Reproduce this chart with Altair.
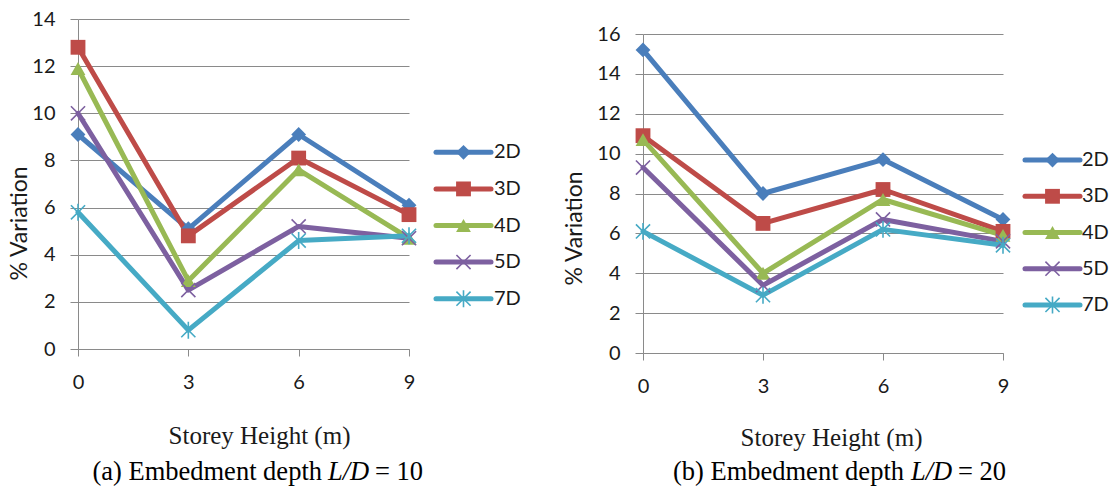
import altair as alt
import pandas as pd

# Storey heights (m) on the x axis
heights = [0, 3, 6, 9]
series = ["2D", "3D", "4D", "5D", "7D"]

# % variation, embedment depth L/D = 10
ld10_2d = [9.1, 5.1, 9.1, 6.1]
ld10_3d = [12.8, 4.8, 8.1, 5.7]
ld10_4d = [11.9, 2.9, 7.6, 4.7]
ld10_5d = [10.0, 2.5, 5.2, 4.7]
ld10_7d = [5.8, 0.8, 4.6, 4.8]

# % variation, embedment depth L/D = 20
ld20_2d = [15.2, 8.0, 9.7, 6.7]
ld20_3d = [10.9, 6.5, 8.2, 6.1]
ld20_4d = [10.7, 4.0, 7.7, 5.9]
ld20_5d = [9.3, 3.4, 6.7, 5.6]
ld20_7d = [6.1, 2.9, 6.2, 5.4]

colors = ["#4A7EBB", "#BE4B48", "#98B954", "#7D60A0", "#46AAC5"]
X_PATH = "M-1,-1L1,1M-1,1L1,-1"
STAR_PATH = "M-1,-1L1,1M-1,1L1,-1M0,-1.2L0,1.2"
shapes = ["diamond", "square", "triangle-up", X_PATH, STAR_PATH]

TEXT = "#1a1a1a"
GRID = "#8a8a8a"
SANS = "Lato"
SERIF = "Liberation Serif"


def panel(values, ymax, width, height, plot_top, left_room, right_room,
          x_title_pos, y_title_pos, legend_x, legend_y, caption, caption_pos):
    long = pd.DataFrame(
        [{"h": h, "v": v, "series": s}
         for s, vals in zip(series, values) for h, v in zip(heights, vals)]
    )
    base = alt.Chart(long)

    x = alt.X(
        "h:Q",
        scale=alt.Scale(domain=[0, 9], nice=False),
        axis=alt.Axis(
            values=heights, grid=False, tickSize=7, labelPadding=16, labelFlush=False,
            title="Storey Height (m)", titleFont=SERIF, titleFontSize=25,
            titleFontWeight="normal", titleColor=TEXT,
            titleX=x_title_pos[0], titleY=x_title_pos[1],
            titleBaseline="middle", titleAlign="center",
        ),
    )
    y = alt.Y(
        "v:Q",
        scale=alt.Scale(domain=[0, ymax], nice=False, range=[height, plot_top]),
        axis=alt.Axis(
            values=list(range(0, ymax + 1, 2)), grid=True, tickSize=8,
            labelPadding=15, labelFlush=False,
            title="% Variation", titleFont=SANS, titleFontSize=23,
            titleFontWeight="normal", titleColor=TEXT, titleAngle=270,
            titleX=y_title_pos[0], titleY=y_title_pos[1],
            titleBaseline="middle", titleAlign="center",
        ),
    )
    color = alt.Color("series:N", scale=alt.Scale(domain=series, range=colors), legend=None)
    shape = alt.Shape("series:N", scale=alt.Scale(domain=series, range=shapes), legend=None)

    lines = base.mark_line(strokeWidth=5, strokeJoin="round", strokeCap="round").encode(
        x=x, y=y, color=color
    )
    solid = base.transform_filter(
        alt.FieldOneOfPredicate(field="series", oneOf=series[:3])
    ).mark_point(filled=True, size=220, opacity=1).encode(x=x, y=y, color=color, shape=shape)
    hollow = base.transform_filter(
        alt.FieldOneOfPredicate(field="series", oneOf=series[3:])
    ).mark_point(filled=False, size=200, strokeWidth=1.6, opacity=1).encode(
        x=x, y=y, color=color, shape=shape
    )

    one = pd.DataFrame({"t": [""]})
    # transparent rule that fixes the panel's outer extent
    frame = alt.Chart(one).mark_rule(opacity=0).encode(
        x=alt.value(-left_room), x2=alt.value(width + right_room), y=alt.value(-19)
    )

    cap_a, cap_b, cap_c = caption
    cx_a, cx_b, cx_c, cy = caption_pos
    caps = [
        alt.Chart(pd.DataFrame({"t": [cap_a]})).mark_text(
            font=SERIF, fontSize=26.5, color="black", align="right", baseline="middle"
        ).encode(x=alt.value(cx_a), y=alt.value(cy), text="t:N"),
        alt.Chart(pd.DataFrame({"t": [cap_b]})).mark_text(
            font=SERIF, fontSize=26.5, fontStyle="italic", color="black",
            align="left", baseline="middle"
        ).encode(x=alt.value(cx_b), y=alt.value(cy), text="t:N"),
        alt.Chart(pd.DataFrame({"t": [cap_c]})).mark_text(
            font=SERIF, fontSize=26.5, color="black", align="left", baseline="middle"
        ).encode(x=alt.value(cx_c), y=alt.value(cy), text="t:N"),
    ]

    plot = alt.layer(lines, solid, hollow, frame, *caps)

    # legend drawn as line + marker + label per series
    leg = alt.Chart(pd.DataFrame({"series": series}))
    ly = alt.Y(
        "series:N",
        scale=alt.Scale(domain=series, range=legend_y, padding=0),
        axis=None,
    )
    lx0, lx1, ltx = legend_x
    lmid = (lx0 + lx1) / 2
    leg_rule = leg.mark_rule(strokeWidth=5, strokeCap="round").encode(
        x=alt.value(lx0), x2=alt.value(lx1), y=ly, color=color
    )
    leg_solid = leg.transform_filter(
        alt.FieldOneOfPredicate(field="series", oneOf=series[:3])
    ).mark_point(filled=True, size=220, opacity=1).encode(
        x=alt.value(lmid), y=ly, color=color, shape=shape
    )
    leg_hollow = leg.transform_filter(
        alt.FieldOneOfPredicate(field="series", oneOf=series[3:])
    ).mark_point(filled=False, size=200, strokeWidth=1.6, opacity=1).encode(
        x=alt.value(lmid), y=ly, color=color, shape=shape
    )
    leg_text = leg.mark_text(
        font=SANS, fontSize=20, color=TEXT, align="left", baseline="middle"
    ).encode(x=alt.value(ltx), y=ly, text="series:N")
    legend = alt.layer(leg_rule, leg_solid, leg_hollow, leg_text)

    return alt.layer(plot, legend).resolve_scale(y="independent").properties(
        width=width, height=height
    )


left = panel(
    [ld10_2d, ld10_3d, ld10_4d, ld10_5d, ld10_7d], 14, 331, 330, 0,
    left_room=78, right_room=131,
    x_title_pos=(181, 86), y_title_pos=(-59, 204),
    legend_x=(358, 413, 416), legend_y=[115, 298],
    caption=("(a) Embedment depth", "L/D", "= 10"),
    caption_pos=(244, 250, 297, 453),
)
right = panel(
    [ld20_2d, ld20_3d, ld20_4d, ld20_5d, ld20_7d], 16, 360, 334, 15,
    left_room=103, right_room=0,
    x_title_pos=(188, 84), y_title_pos=(-69, 209),
    legend_x=(382, 437, 439), legend_y=[123, 304],
    caption=("(b) Embedment depth", "L/D", "= 20"),
    caption_pos=(261, 268, 315, 453),
)

chart = alt.hconcat(left, right, spacing=0).properties(
    padding=0, background="white"
).configure_view(stroke=None).configure_axis(
    domainColor=GRID, tickColor=GRID, gridColor=GRID, domainWidth=1, tickWidth=1,
    gridWidth=1, labelFont=SANS, labelFontSize=20, labelColor=TEXT,
)

chart.save("out.html", embed_options={"renderer": "svg", "actions": False})
